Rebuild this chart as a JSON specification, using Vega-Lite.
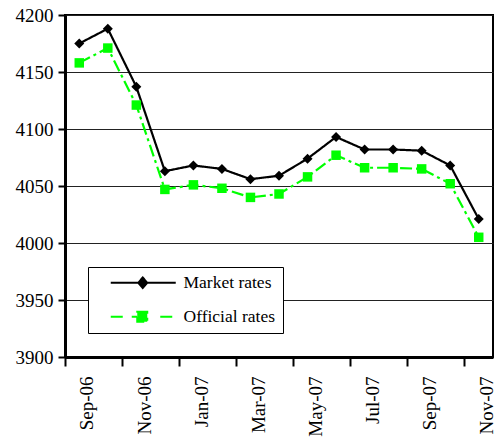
{
  "$schema": "https://vega.github.io/schema/vega-lite/v6.json",
  "width": 428,
  "height": 342,
  "autosize": "none",
  "padding": {"left": 65, "top": 15, "right": 4, "bottom": 88},
  "background": "white",
  "config": {"view": {"stroke": "black", "strokeWidth": 2}, "font": "Liberation Serif", "axis": {"labelFont": "Liberation Serif"}, "legend": {"labelFont": "Liberation Serif"}},
  "data": {"values": [
    {"month": "Sep-06", "series": "Market rates", "rate": 4175},
    {"month": "Oct-06", "series": "Market rates", "rate": 4188},
    {"month": "Nov-06", "series": "Market rates", "rate": 4137},
    {"month": "Dec-06", "series": "Market rates", "rate": 4063},
    {"month": "Jan-07", "series": "Market rates", "rate": 4068},
    {"month": "Feb-07", "series": "Market rates", "rate": 4065},
    {"month": "Mar-07", "series": "Market rates", "rate": 4056},
    {"month": "Apr-07", "series": "Market rates", "rate": 4059},
    {"month": "May-07", "series": "Market rates", "rate": 4074},
    {"month": "Jun-07", "series": "Market rates", "rate": 4093},
    {"month": "Jul-07", "series": "Market rates", "rate": 4082},
    {"month": "Aug-07", "series": "Market rates", "rate": 4082},
    {"month": "Sep-07", "series": "Market rates", "rate": 4081},
    {"month": "Oct-07", "series": "Market rates", "rate": 4068},
    {"month": "Nov-07", "series": "Market rates", "rate": 4021},
    {"month": "Sep-06", "series": "Official rates", "rate": 4158},
    {"month": "Oct-06", "series": "Official rates", "rate": 4171},
    {"month": "Nov-06", "series": "Official rates", "rate": 4121},
    {"month": "Dec-06", "series": "Official rates", "rate": 4047},
    {"month": "Jan-07", "series": "Official rates", "rate": 4051},
    {"month": "Feb-07", "series": "Official rates", "rate": 4048},
    {"month": "Mar-07", "series": "Official rates", "rate": 4040},
    {"month": "Apr-07", "series": "Official rates", "rate": 4043},
    {"month": "May-07", "series": "Official rates", "rate": 4058},
    {"month": "Jun-07", "series": "Official rates", "rate": 4077},
    {"month": "Jul-07", "series": "Official rates", "rate": 4066},
    {"month": "Aug-07", "series": "Official rates", "rate": 4066},
    {"month": "Sep-07", "series": "Official rates", "rate": 4065},
    {"month": "Oct-07", "series": "Official rates", "rate": 4052},
    {"month": "Nov-07", "series": "Official rates", "rate": 4005}
  ]},
  "encoding": {
    "x": {
      "field": "month", "type": "ordinal",
      "sort": ["Sep-06","Oct-06","Nov-06","Dec-06","Jan-07","Feb-07","Mar-07","Apr-07","May-07","Jun-07","Jul-07","Aug-07","Sep-07","Oct-07","Nov-07"],
      "scale": {"type": "point", "padding": 0.5},
      "axis": {
        "title": null,
        "values": ["Sep-06","Nov-06","Jan-07","Mar-07","May-07","Jul-07","Sep-07","Nov-07"],
        "labelAngle": -90,
        "labelAlign": "right",
        "labelBaseline": "middle",
        "tickOffset": -14.27,
        "labelOffset": 22,
        "labelFont": "Liberation Serif",
        "labelFontSize": 19,
        "labelColor": "black",
        "labelPadding": 10,
        "tickSize": 9,
        "tickWidth": 2,
        "tickColor": "black",
        "domainColor": "black",
        "domainWidth": 3,
        "grid": false
      }
    },
    "y": {
      "field": "rate", "type": "quantitative",
      "scale": {"domain": [3900, 4200], "nice": false, "zero": false},
      "axis": {
        "title": null,
        "values": [3900, 3950, 4000, 4050, 4100, 4150, 4200],
        "format": "d",
        "labelFont": "Liberation Serif",
        "labelFontSize": 19,
        "labelColor": "black",
        "labelPadding": 5,
        "tickSize": 7,
        "tickWidth": 2,
        "tickColor": "black",
        "domainColor": "black",
        "domainWidth": 3,
        "grid": true,
        "gridColor": "#222222",
        "gridWidth": 1
      }
    }
  },
  "layer": [
    {
      "mark": {"type": "line", "strokeWidth": 2.2},
      "encoding": {
        "color": {
          "field": "series", "type": "nominal",
          "scale": {"domain": ["Market rates", "Official rates"], "range": ["black", "#00ff00"]},
          "legend": {
            "title": null,
            "orient": "none",
            "legendX": 23,
            "legendY": 252,
            "direction": "vertical",
            "strokeColor": "black",
            "fillColor": "white",
            "padding": 7,
            "symbolSize": 100,
            "labelOffset": 71,
            "labelFontSize": 17.5,
            "labelColor": "black",
            "labelFont": "Liberation Serif",
            "rowPadding": 15,
            "encode": {
              "symbols": {
                "update": {
                  "shape": {"signal": "datum.value === 'Market rates' ? 'M1.4,0H14.4M7.8,-1.05L8.7,0L7.8,1.05L6.9,0Z' : 'M1.4,0H4.4M5.6,0H6.7M6.7,-1H8.7V1H6.7ZM11.3,0H14.4'"},
                  "fill": {"signal": "datum.value === 'Market rates' ? 'black' : '#00ff00'"},
                  "strokeWidth": {"value": 2},
                  "size": {"value": 100}
                }
              }
            }
          }
        },
        "strokeDash": {
          "field": "series", "type": "nominal",
          "scale": {"domain": ["Market rates", "Official rates"], "range": [[1, 0], [12, 4, 3, 4]]},
          "legend": null
        }
      }
    },
    {
      "transform": [{"filter": "datum.series === 'Official rates'"}],
      "mark": {"type": "point", "filled": true, "opacity": 1, "size": 90, "shape": "square", "color": "#00ff00"}
    },
    {
      "transform": [{"filter": "datum.series === 'Market rates'"}],
      "mark": {"type": "point", "filled": true, "opacity": 1, "size": 100, "shape": "diamond", "color": "black"}
    }
  ]
}
